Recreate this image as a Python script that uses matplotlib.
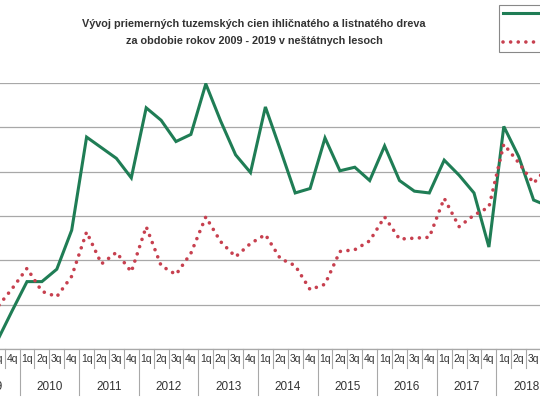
import matplotlib
matplotlib.use("Agg")
import matplotlib.pyplot as plt
import matplotlib.transforms as mtransforms
from matplotlib.lines import Line2D
import numpy as np

plt.rcParams['font.family'] = ['Liberation Sans Narrow', 'Liberation Sans', 'DejaVu Sans']

# quarters 2009 1q .. 2019 4q
years = list(range(2009, 2020))
quarters = ['1q', '2q', '3q', '4q']

# values from 2009 3q to 2018 4q (EUR/m3)
first_idx = 2
conifer = [30.9, 34.3,
           37.6, 37.6, 39.0, 43.4,
           53.9, 52.7, 51.5, 49.3,
           57.2, 55.8, 53.4, 54.2,
           59.9, 55.7, 51.9, 49.9,
           57.3, 52.5, 47.6, 48.1,
           53.8, 50.1, 50.5, 49.0,
           52.9, 49.0, 47.8, 47.6,
           51.3, 49.6, 47.6, 41.5,
           55.1, 51.7, 46.8, 46.1]
broadleaf = [34.7, 36.8,
             39.1, 36.5, 35.9, 38.2,
             43.2, 39.6, 40.9, 38.7,
             43.8, 39.4, 38.4, 40.8,
             44.9, 42.1, 40.4, 41.9,
             42.9, 40.2, 39.4, 36.7,
             37.3, 41.0, 41.2, 42.2,
             44.9, 42.4, 42.5, 42.6,
             47.0, 43.8, 45.1, 46.0,
             53.1, 51.0, 48.7, 50.6]

green = '#1f7d55'
red = '#c7404f'
grid_c = '#a8a8a8'
txt_c = '#333333'

fig = plt.figure(figsize=(5.4, 4.05), dpi=100)
ax = fig.add_axes([0, 56 / 405, 1, 266 / 405])

x = np.arange(first_idx, first_idx + len(conifer))
ax.plot(x, conifer, color=green, lw=2.2, solid_joinstyle='miter', zorder=3)
ax.plot(x, broadleaf, color=red, lw=2.6, linestyle=(0, (0.01, 2.1)),
        dash_capstyle='round', zorder=3)

# pixel x = -32.6 + 14.9 * k
x0, x1 = 32.6 / 14.9, (540 + 32.6) / 14.9
ax.set_xlim(x0, x1)
ax.set_xticks([])
ax.set_yticks(np.arange(30, 61, 5))
ax.set_ylim(30, 60)
ax.yaxis.grid(True, color=grid_c, lw=0.9)
ax.set_axisbelow(True)
for s in ['left', 'right', 'top']:
    ax.spines[s].set_visible(False)
ax.spines['bottom'].set_color(grid_c)
ax.spines['bottom'].set_linewidth(0.9)
ax.tick_params(axis='y', left=False, labelleft=False)

# category table below the axis
trans = mtransforms.blended_transform_factory(ax.transData, ax.transAxes)
n = len(years) * 4
short = -19 / 266
long = -46 / 266
for k in range(n + 1):
    b = k - 0.5
    y1 = long if k % 4 == 0 else short
    ax.add_line(Line2D([b, b], [0, y1], color=grid_c, lw=0.8,
                       transform=trans, clip_on=False))
for k in range(n):
    if x0 - 0.6 < k < x1 + 0.6:
        ax.text(k, -9.5 / 266, quarters[k % 4], transform=trans, ha='center',
                va='center', fontsize=7.5, color=txt_c)
for i, yr in enumerate(years):
    c = i * 4 + 1.5
    if x0 - 1.2 < c < x1 + 1.2:
        ax.text(c, -38 / 266, str(yr), transform=trans,
                ha='center', va='center', fontsize=8.5, color=txt_c)

fig.text(254 / 540, 1 - 24 / 405,
         'Vývoj priemerných tuzemských cien ihličnatého a listnatého dreva',
         ha='center', va='center', fontsize=7.8, fontweight='bold', color=txt_c)
fig.text(254 / 540, 1 - 41 / 405,
         'za obdobie rokov 2009 - 2019 v neštátnych lesoch',
         ha='center', va='center', fontsize=7.8, fontweight='bold', color=txt_c)

handles = [Line2D([], [], color=green, lw=2.2),
           Line2D([], [], color=red, lw=2.6, linestyle=(0, (0.01, 2.1)),
                  dash_capstyle='round')]
leg = fig.legend(handles, ['ihličnaté', 'listnaté'], loc='upper left',
                 bbox_to_anchor=(499 / 540, 1 - 5 / 405), borderaxespad=0,
                 fancybox=False, edgecolor='#888888', fontsize=8,
                 handlelength=3.5, labelspacing=1.7, borderpad=0.35,
                 framealpha=1)
leg.get_frame().set_linewidth(0.8)

fig.savefig('out.png', dpi=100)
